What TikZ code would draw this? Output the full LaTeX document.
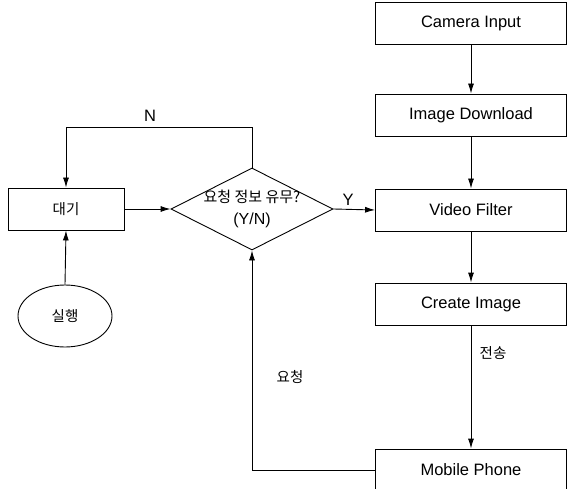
\documentclass[tikz,border=0pt]{standalone}
\usepackage{fontspec}
\setmainfont{Liberation Sans}
\newfontfamily\kr{Noto Sans CJK KR}
\usetikzlibrary{shapes.geometric,arrows.meta}
\begin{document}
\begin{tikzpicture}[x=1pt,y=-1pt,
  box/.style={draw,line width=0.9pt,minimum width=191pt,minimum height=42pt,inner sep=0pt,font=\fontsize{16.5}{20}\selectfont},
  flow/.style={line width=0.9pt,-{Latex[length=10pt,width=6pt]}},
  lbl/.style={font=\fontsize{16.5}{20}\selectfont,inner sep=0pt},
  krlbl/.style={font=\kr\fontsize{14.5}{18}\selectfont,inner sep=0pt}]
\useasboundingbox (0,0) rectangle (573,489);
\node[box] (cam) at (471,23.5) {Camera Input};
\node[box] (dl) at (471,115) {Image Download};
\node[box] (vf) at (471,210) {Video Filter};
\node[box] (ci) at (471,304) {Create Image};
\node[box] (mp) at (471,470) {Mobile Phone};
\node[box,minimum width=116pt,font=\kr\fontsize{14.5}{18}\selectfont] (wait) at (66,209) {대기};
\node[draw,diamond,minimum width=162pt,minimum height=82pt,inner sep=0pt,line width=0.9pt] (dia) at (252,209) {};
\node[align=center,inner sep=0pt,font=\kr\fontsize{15}{22}\selectfont] (q) at (252,209) {요청 정보 유무?\\{\rmfamily\fontsize{16}{22}\selectfont (Y/N)}};
\node[draw,ellipse,line width=0.9pt,minimum width=94pt,minimum height=62pt,inner sep=0pt,font=\kr\fontsize{14.5}{18}\selectfont] (run) at (65,316) {실행};
\draw[flow] (cam) -- (dl);
\draw[flow] (dl) -- (vf);
\draw[flow] (vf) -- (ci);
\draw[flow] (ci) -- (mp);
\draw[flow] (dia.east) -- (vf.west);
\draw[flow] (wait.east) -- (dia.west);
\draw[flow] (run.north) -- (wait.south);
\draw[flow] (dia.north) -- ++(0,-40) -| (wait.north);
\draw[flow] (mp.west) -| (dia.south);
\node[lbl] (n) at (150,116) {N};
\node[lbl] (y) at (348,200) {Y};
\node[krlbl] (req) at (290,377) {요청};
\node[krlbl] (send) at (493,353) {전송};
\end{tikzpicture}
\end{document}
